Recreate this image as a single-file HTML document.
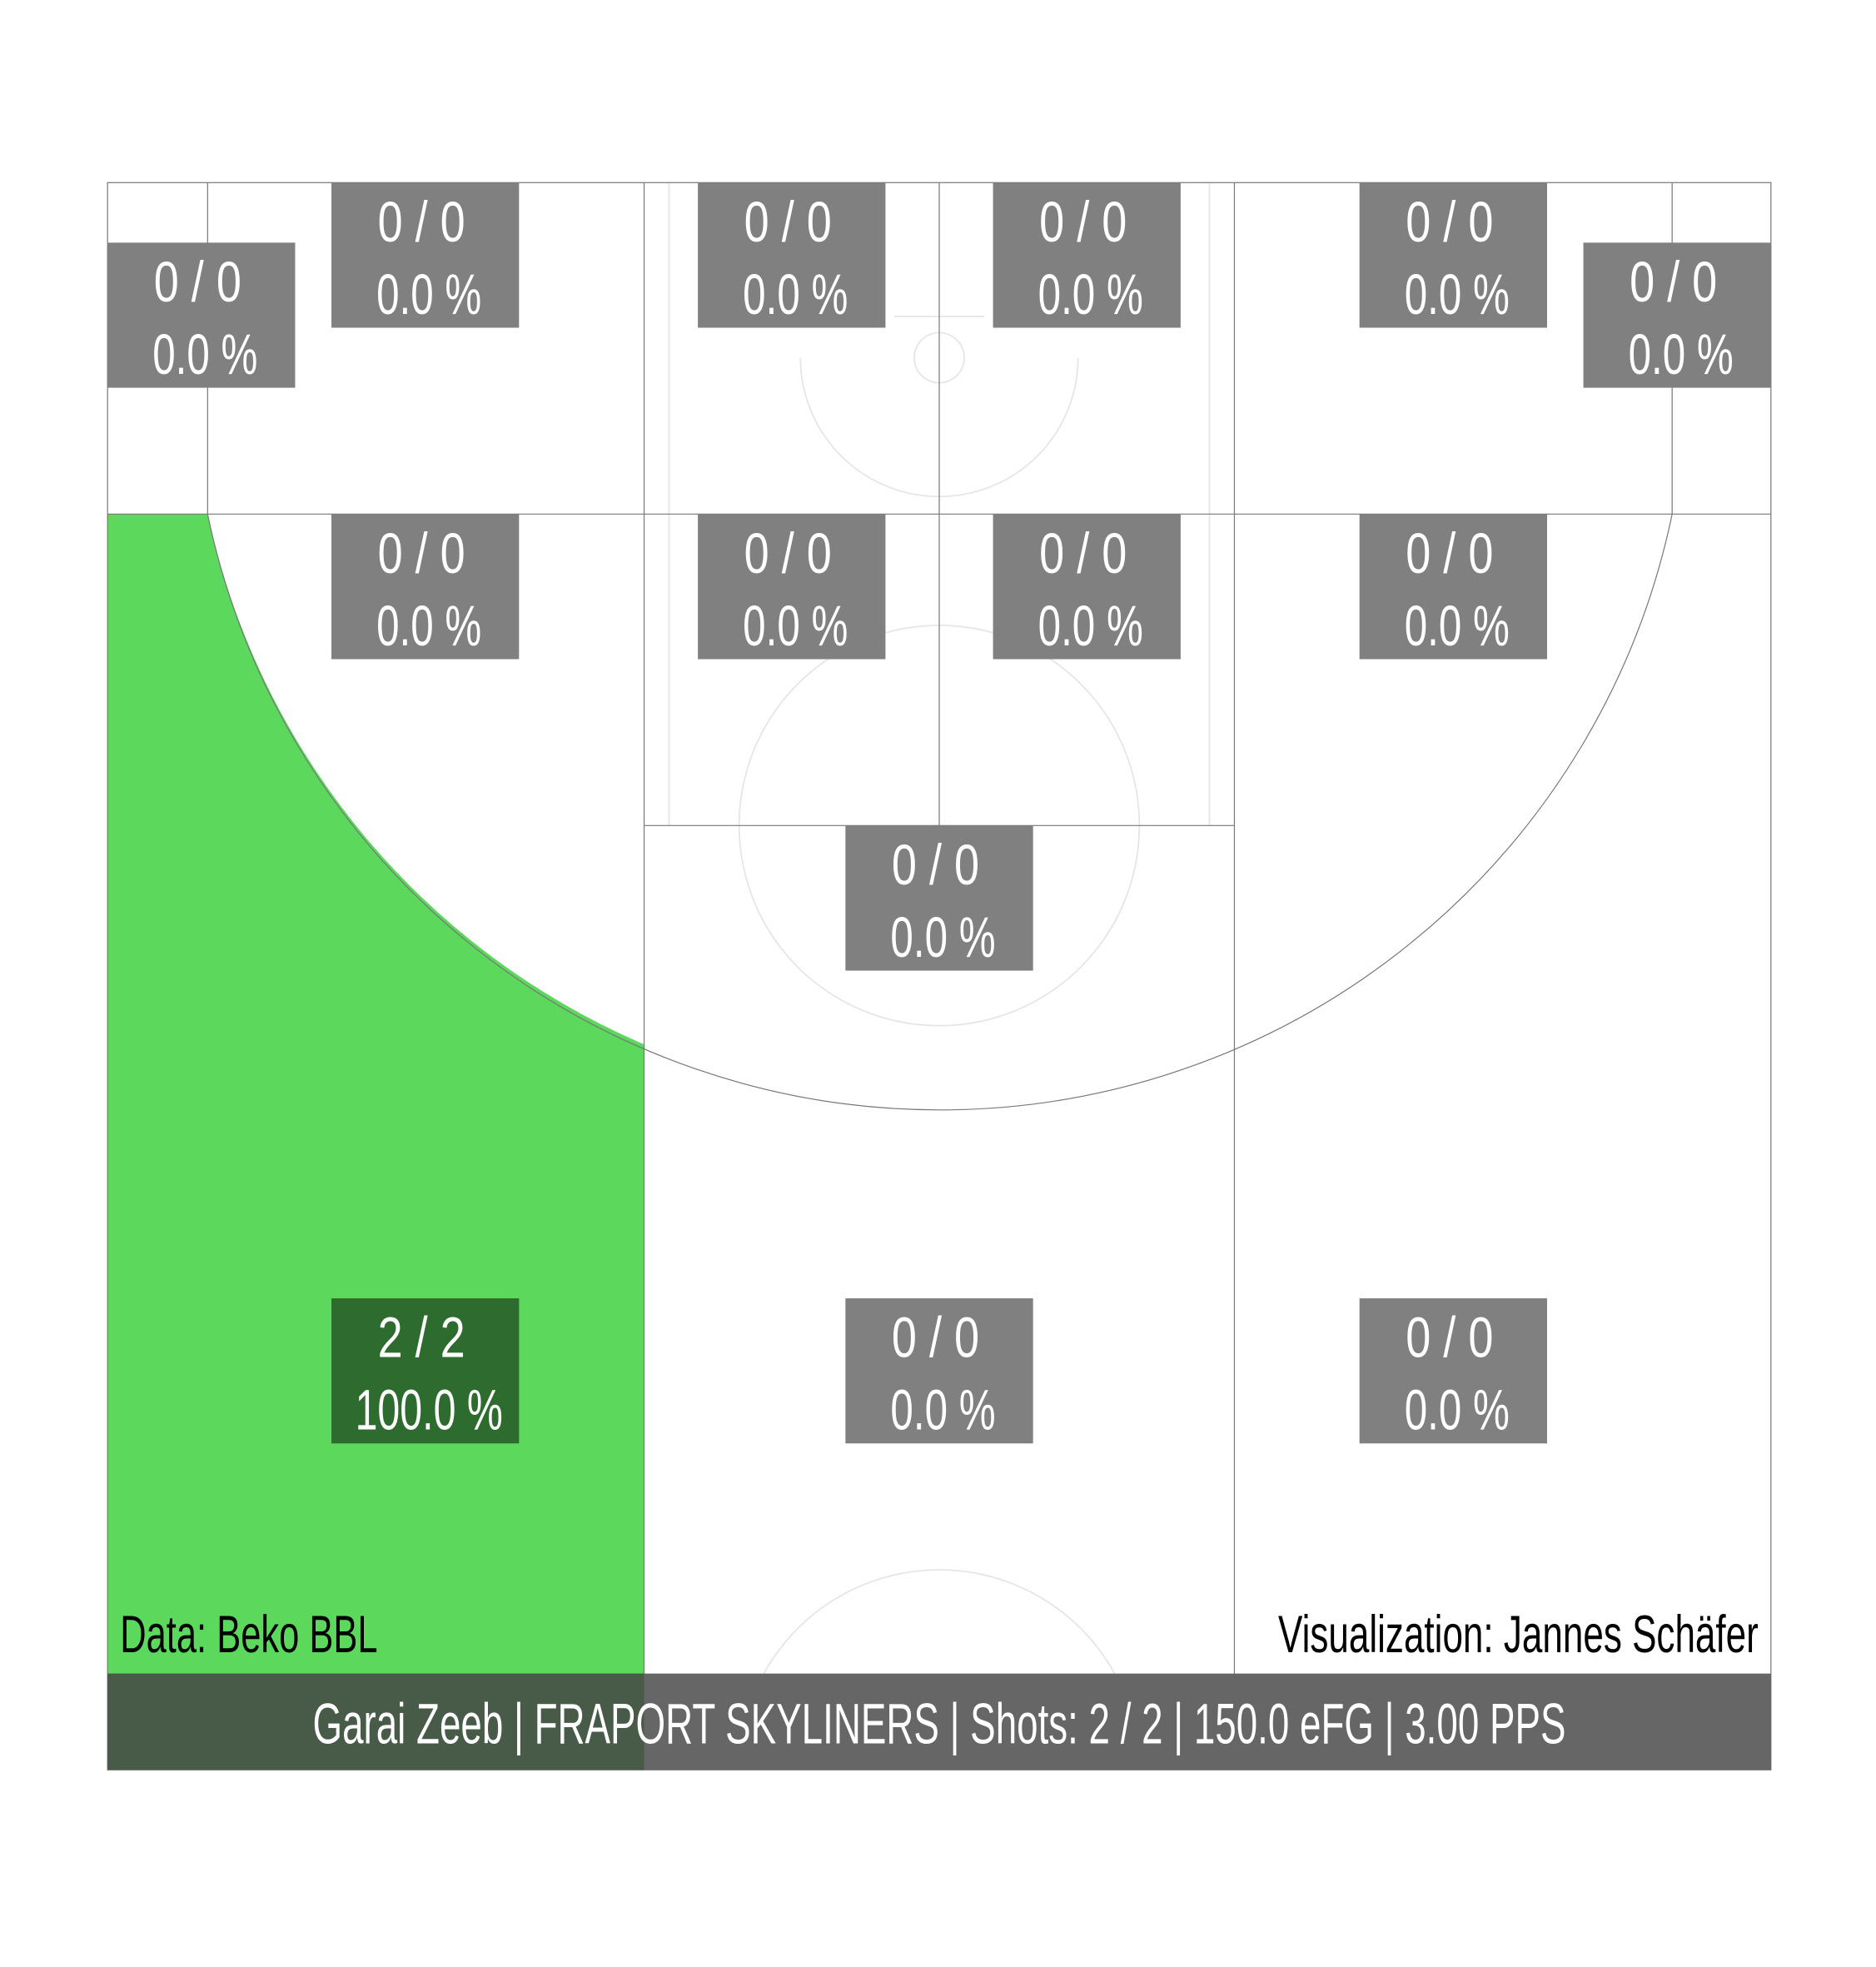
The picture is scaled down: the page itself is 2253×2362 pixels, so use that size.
<!DOCTYPE html>
<html><head><meta charset="utf-8"><style>
html,body{margin:0;padding:0;background:#fff;}
svg{display:block;}
text{font-family:"Liberation Sans Narrow","Liberation Sans",sans-serif;}
</style></head><body>
<svg id="chart" width="2253" height="2362" viewBox="0 0 1500 1572.6" preserveAspectRatio="none" xmlns="http://www.w3.org/2000/svg">
<g id="court"></g>
<g id="boxes"></g>
</svg>
<script>
const zoneNames=["left-corner-3","left-wing-3-top","top-left-3","top-right-3","right-wing-3-top","right-corner-3","left-mid","paint-left","paint-right","right-mid","free-throw","left-deep","center-deep","right-deep"];
const made=[0,0,0,0,0,0,0,0,0,0,0,2,0,0];
const attempts=[0,0,0,0,0,0,0,0,0,0,0,2,0,0];
const boxX=[86,265,558,794,1087,1266,265,558,794,1087,676,265,676,1087];
const boxY=[194,146,146,146,146,194,411,411,411,411,660,1038,1038,1038];
const NS="http://www.w3.org/2000/svg";
function mk(tag,attrs,parent){const e=document.createElementNS(NS,tag);for(const k in attrs)e.setAttribute(k,attrs[k]);parent.appendChild(e);return e;}
const court=document.getElementById('court');
// green zone (left deep)
let g=mk('path',{d:"M86,411 L166,411 A598,598 0 0 0 515,835 L515,1415 L86,1415 Z",fill:"#5cd85c"},court);


// faint court markings
const faint={fill:"none",stroke:"#e6e6e6","stroke-width":1.2};
let f;
f=mk('circle',Object.assign({cx:751,cy:660,r:160},faint),court);

f=mk('circle',Object.assign({cx:751,cy:286,r:20},faint),court);

f=mk('path',Object.assign({d:"M640,286 A111,111 0 0 0 862,286"},faint),court);

f=mk('path',Object.assign({d:"M591,1415 A160,160 0 0 1 911,1415"},faint),court);

f=mk('path',Object.assign({d:"M535,146 L535,660 M967,146 L967,660 M715,253 L787,253"},faint),court);

// zone lines
const ln={fill:"none",stroke:"#777","stroke-width":0.8};
f=mk('path',Object.assign({d:"M86,411 L1416,411 M166,146 L166,411 M1337,146 L1337,411 M515,146 L515,1415 M987,146 L987,1415 M751,146 L751,660 M515,660 L987,660"},ln),court);

f=mk('path',Object.assign({d:"M166,411 A598,598 0 0 0 1337,411"},ln),court);

f=mk('rect',Object.assign({x:86,y:146,width:1330,height:1269},ln),court);

const boxes=document.getElementById('boxes');
for(let i=0;i<zoneNames.length;i++){
  const pct=attempts[i]?made[i]/attempts[i]*100:0;
  const hot=pct>0;
  const r=mk('rect',{x:boxX[i],y:boxY[i],width:150,height:116,fill:hot?"#2e6b2e":"#808080"},boxes);
  
  
  const pt=pct.toFixed(1)+" %";
  const t1=mk('text',{x:boxX[i]+72,y:boxY[i]+47,"text-anchor":"middle",fill:"#fff","font-size":46,textLength:70,lengthAdjust:"spacingAndGlyphs"},boxes);
  t1.textContent=made[i]+" / "+attempts[i];
  
  
  const t2=mk('text',{x:boxX[i]+78,y:boxY[i]+105,"text-anchor":"middle",fill:"#fff","font-size":46,textLength:pt.length>6?118:84,lengthAdjust:"spacingAndGlyphs"},boxes);
  t2.textContent=pt;
  
  
}
// footer
const svg=document.getElementById('chart');
let b=mk('rect',{x:86,y:1338,width:1330,height:77,fill:"#666666"},svg);

b=mk('rect',{x:86,y:1338,width:429,height:77,fill:"#485a48"},svg);

let t=mk('text',{x:751,y:1394,"text-anchor":"middle",fill:"#fff","font-size":46,textLength:1002,lengthAdjust:"spacingAndGlyphs"},svg);
t.textContent="Garai Zeeb | FRAPORT SKYLINERS | Shots: 2 / 2 | 150.0 eFG | 3.00 PPS";

t=mk('text',{x:96,y:1321,fill:"#000","font-size":42,textLength:206,lengthAdjust:"spacingAndGlyphs"},svg);
t.textContent="Data: Beko BBL";

t=mk('text',{x:1022,y:1321,fill:"#000","font-size":42,textLength:384,lengthAdjust:"spacingAndGlyphs"},svg);
t.textContent="Visualization: Jannes Schäfer";

</script>
</body></html>
